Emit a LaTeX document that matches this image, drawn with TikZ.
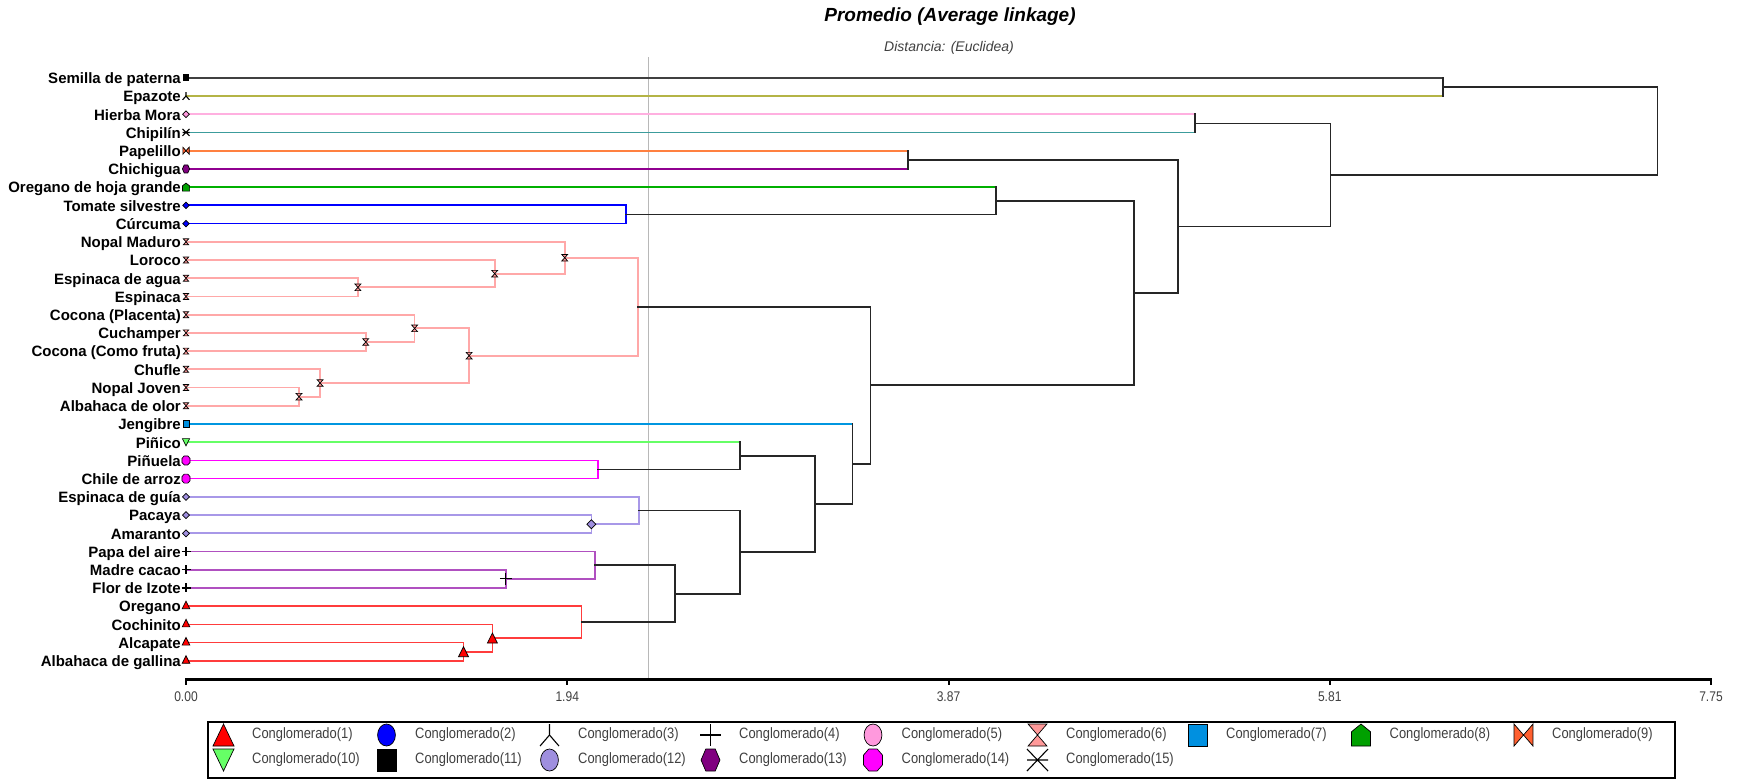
\documentclass[tikz,border=0pt]{standalone}
\usepackage{fontspec}
\setmainfont{Liberation Sans}
\newfontfamily\narrowfont[FakeStretch=0.86]{Liberation Sans}
\usetikzlibrary{calc}

\definecolor{kk}{HTML}{262626}
\definecolor{c1}{HTML}{FF3C3C}
\definecolor{c2}{HTML}{0000FF}
\definecolor{c3}{HTML}{B4B446}
\definecolor{c4}{HTML}{B050C0}
\definecolor{c5}{HTML}{FFB0E0}
\definecolor{c6}{HTML}{FFA8A8}
\definecolor{c7}{HTML}{0096E0}
\definecolor{c8}{HTML}{00B000}
\definecolor{c9}{HTML}{FF8040}
\definecolor{c10}{HTML}{66FF66}
\definecolor{c11}{HTML}{404040}
\definecolor{c12}{HTML}{A898E8}
\definecolor{c13}{HTML}{900090}
\definecolor{c14}{HTML}{FF00FF}
\definecolor{c15}{HTML}{3C9C9C}
\definecolor{f1}{HTML}{FF0000}
\definecolor{f5}{HTML}{FF99DD}
\definecolor{f6}{HTML}{FF9999}
\definecolor{f7}{HTML}{0090E0}
\definecolor{f8}{HTML}{00A000}
\definecolor{f9}{HTML}{FF6030}
\definecolor{f12}{HTML}{9F8FDF}
\definecolor{f13}{HTML}{800080}
\definecolor{txtgray}{HTML}{404040}
\definecolor{cutgray}{HTML}{B8B8B8}

\tikzset{
  mk/.style={draw=black, line width=0.7pt},
  mkl/.style={draw=black, line width=1.1pt},
  ln/.style={line width=1.7pt, line cap=rect},
  lab/.style={anchor=base east, inner sep=0pt, font=\fontsize{15}{15}\selectfont\bfseries},
  legtxt/.style={anchor=west, inner sep=0pt, text=txtgray, font=\narrowfont\fontsize{15}{15}\selectfont},
  ticklab/.style={inner sep=0pt, text=txtgray, font=\narrowfont\fontsize{14}{14}\selectfont},
  pics/ptri/.style={code={\path[mk,fill=#1] (0,-1)--(1,1)--(-1,1)--cycle;}},
  pics/ptrid/.style={code={\path[mk,fill=#1] (0,1)--(1,-1)--(-1,-1)--cycle;}},
  pics/pell/.style={code={\path[mk,fill=#1] (0,0) ellipse [x radius=0.85, y radius=1];}},
  pics/pdia/.style={code={\path[mk,fill=#1] (0,-1)--(1,0)--(0,1)--(-1,0)--cycle;}},
  pics/psq/.style={code={\path[mk,fill=#1] (-0.9,-1) rectangle (0.9,1);}},
  pics/pY/.style={code={\draw[mkl] (0,-1)--(0,0)--(-0.9,1) (0,0)--(0.9,1);}},
  pics/pplus/.style={code={\draw[mkl] (-1,0)--(1,0) (0,-1)--(0,1);}},
  pics/pstar/.style={code={\draw[mkl] (-1,-1)--(1,1) (-1,1)--(1,-1) (-1,0)--(1,0);}},
  pics/phour/.style={code={\path[mk,fill=#1] (-0.9,-1)--(0.9,-1)--(-0.9,1)--(0.9,1)--cycle;}},
  pics/pbow/.style={code={\path[mk,fill=#1] (-0.9,-1)--(0.9,1)--(0.9,-1)--(-0.9,1)--cycle;}},
  pics/phouse/.style={code={\path[mk,fill=#1] (0,-1)--(0.9,-0.3)--(0.9,1)--(-0.9,1)--(-0.9,-0.3)--cycle;}},
  pics/phex/.style={code={\path[mk,fill=#1] (-0.45,-1)--(0.45,-1)--(0.9,0)--(0.45,1)--(-0.45,1)--(-0.9,0)--cycle;}},
  pics/poct/.style={code={\path[mk,fill=#1] (-0.4,-1)--(0.4,-1)--(0.9,-0.45)--(0.9,0.45)--(0.4,1)--(-0.4,1)--(-0.9,0.45)--(-0.9,-0.45)--cycle;}},
}

\newcommand\leaf[3]{%
  \coordinate (#1) at (186,{77.8+18.22*#2});
  \node[lab] (T#1) at (181,{77.8+18.22*#2+5.8}) {#3};
}
\newcommand\jn[7]{%
  \path let \p1=(#3), \p2=(#4) in coordinate (#1) at (#2pt,{(\y1+\y2)/2});
  \draw[ln,#5] (#3) -- (#3 -| #1);
  \draw[ln,#6] (#4) -- (#4 -| #1);
  \draw[ln,#7] (#3 -| #1) -- (#4 -| #1);
}
\newcommand\legent[5]{%
  \pic[xscale=10.5,yscale=11] at ({#2-28.5},#3) {#4};
  \node[legtxt] (leg#1) at (#2,#3) {#5};
}

\begin{document}
\begin{tikzpicture}[x=1pt,y=-1pt]
\useasboundingbox (0,0) rectangle (1743,780);

% titles
\node[inner sep=0pt, font=\fontsize{19}{19}\selectfont\bfseries\itshape] (title) at (950,17) {Promedio (Average linkage)};
\node[inner sep=0pt, text=txtgray, font=\fontsize{14}{14}\selectfont\itshape] (sub) at (949,48) {Distancia: (Euclidea)};

% leaves
\leaf{sem}{0}{Semilla de paterna}
\leaf{epa}{1}{Epazote}
\leaf{hm}{2}{Hierba Mora}
\leaf{chi}{3}{Chipilín}
\leaf{pap}{4}{Papelillo}
\leaf{chg}{5}{Chichigua}
\leaf{ohg}{6}{Oregano de hoja grande}
\leaf{tom}{7}{Tomate silvestre}
\leaf{cur}{8}{Cúrcuma}
\leaf{nma}{9}{Nopal Maduro}
\leaf{lor}{10}{Loroco}
\leaf{eag}{11}{Espinaca de agua}
\leaf{esp}{12}{Espinaca}
\leaf{cpl}{13}{Cocona (Placenta)}
\leaf{cuc}{14}{Cuchamper}
\leaf{cfr}{15}{Cocona (Como fruta)}
\leaf{chu}{16}{Chufle}
\leaf{njo}{17}{Nopal Joven}
\leaf{ado}{18}{Albahaca de olor}
\leaf{jen}{19}{Jengibre}
\leaf{pco}{20}{Piñico}
\leaf{pnu}{21}{Piñuela}
\leaf{car}{22}{Chile de arroz}
\leaf{egu}{23}{Espinaca de guía}
\leaf{pac}{24}{Pacaya}
\leaf{ama}{25}{Amaranto}
\leaf{pai}{26}{Papa del aire}
\leaf{mca}{27}{Madre cacao}
\leaf{fiz}{28}{Flor de Izote}
\leaf{ore}{29}{Oregano}
\leaf{coc}{30}{Cochinito}
\leaf{alc}{31}{Alcapate}
\leaf{aga}{32}{Albahaca de gallina}

% cut line
\coordinate (cutT) at (648.5,57);
\coordinate (cutB) at (648.5,679);
\draw[cutgray, line width=1.4pt] (cutT) -- (cutB);

% merges: name, x, childA, childB, colA, colB, bracket
\jn{s1}{357.9}{eag}{esp}{c6}{c6}{c6}
\jn{s2}{494.7}{lor}{s1}{c6}{c6}{c6}
\jn{s3}{564.7}{nma}{s2}{c6}{c6}{c6}
\jn{s4}{365.7}{cuc}{cfr}{c6}{c6}{c6}
\jn{s5}{414.6}{cpl}{s4}{c6}{c6}{c6}
\jn{s6}{299.0}{njo}{ado}{c6}{c6}{c6}
\jn{s7}{320.1}{chu}{s6}{c6}{c6}{c6}
\jn{s8}{469.1}{s5}{s7}{c6}{c6}{c6}
\jn{s9}{638.1}{s3}{s8}{c6}{c6}{c6}
\jn{b1}{625.8}{tom}{cur}{c2}{c2}{c2}
\jn{o1}{996.0}{ohg}{b1}{c8}{kk}{kk}
\jn{p1}{598.0}{pnu}{car}{c14}{c14}{c14}
\jn{p2}{740.3}{pco}{p1}{c10}{kk}{kk}
\jn{l1}{591.4}{pac}{ama}{c12}{c12}{c12}
\jn{l2}{639.2}{egu}{l1}{c12}{c12}{c12}
\jn{u1}{505.8}{mca}{fiz}{c4}{c4}{c4}
\jn{u2}{594.7}{pai}{u1}{c4}{c4}{c4}
\jn{r1}{463.5}{alc}{aga}{c1}{c1}{c1}
\jn{r2}{492.4}{coc}{r1}{c1}{c1}{c1}
\jn{r3}{581.4}{ore}{r2}{c1}{c1}{c1}
\jn{k1}{674.7}{u2}{r3}{kk}{kk}{kk}
\jn{k2}{740.3}{l2}{k1}{kk}{kk}{kk}
\jn{k3}{814.8}{p2}{k2}{kk}{kk}{kk}
\jn{k4}{852.6}{jen}{k3}{c7}{kk}{kk}
\jn{k5}{870.4}{s9}{k4}{kk}{kk}{kk}
\jn{k6}{1133.8}{o1}{k5}{kk}{kk}{kk}
\jn{pc}{908.2}{pap}{chg}{c9}{c13}{kk}
\jn{k7}{1178.3}{pc}{k6}{kk}{kk}{kk}
\jn{hc}{1195.0}{hm}{chi}{c5}{c15}{kk}
\jn{k8}{1330.6}{hc}{k7}{kk}{kk}{kk}
\jn{se}{1442.9}{sem}{epa}{c11}{c3}{kk}
\jn{k9}{1657.4}{se}{k8}{kk}{kk}{kk}

% leaf markers
\pic[scale=3] at (sem) {psq=black};
\pic[scale=3.8] at (epa) {pY};
\pic[scale=3.3] at (hm) {pdia=f5};
\pic[scale=3.5] at (chi) {pstar};
\pic[scale=3.5] at (pap) {pbow=f9};
\pic[scale=4] at (chg) {phex=f13};
\pic[scale=4] at (ohg) {phouse=f8};
\pic[scale=3.3] at (tom) {pdia=c2};
\pic[scale=3.3] at (cur) {pdia=c2};
\foreach \n in {nma,lor,eag,esp,cpl,cuc,cfr,chu,njo,ado}{\pic[scale=3] at (\n) {phour=f6};}
\pic[scale=3.5] at (jen) {psq=f7};
\pic[scale=3.6] at (pco) {ptrid=c10};
\pic[scale=4.5] at (pnu) {poct=c14};
\pic[scale=4.5] at (car) {poct=c14};
\foreach \n in {egu,pac,ama}{\pic[scale=3.5] at (\n) {pdia=f12};}
\foreach \n in {pai,mca,fiz}{\pic[scale=4.5] at (\n) {pplus};}
\foreach \n in {ore,coc,alc,aga}{\pic[scale=3.8,yshift=0.35pt] at (\n) {ptri=f1};}

% internal markers
\foreach \n in {s1,s2,s3,s4,s5,s6,s7,s8}{\pic[scale=3.3] at (\n) {phour=f6};}
\pic[scale=4.5] at (l1) {pdia=f12};
\pic[scale=6] at (u1) {pplus};
\pic[scale=5] at (r1) {ptri=f1};
\pic[scale=5] at (r2) {ptri=f1};

% axis
\coordinate (ax0) at (186,679);
\coordinate (ax1) at (1711,679);
\draw[black, line width=3pt] (ax0) -- (ax1);
\foreach \k/\t in {0/0.00,1/1.94,2/3.87,3/5.81,4/7.75}{
  \draw[black, line width=2pt] ({186+381.25*\k},678) -- ++(0,7);
  \node[ticklab] (tick\k) at ({186+381.25*\k},697) {\t};
}

% legend
\coordinate (lg0) at (208,722);
\coordinate (lg1) at (1675,778);
\draw[black, line width=1.4pt] (lg0) rectangle (lg1);
\legent{1}{252}{735}{ptri=f1}{Conglomerado(1)}
\legent{2}{415}{735}{pell=c2}{Conglomerado(2)}
\legent{3}{578}{735}{pY}{Conglomerado(3)}
\legent{4}{739}{735}{pplus}{Conglomerado(4)}
\legent{5}{901.5}{735}{pell=f5}{Conglomerado(5)}
\legent{6}{1066}{735}{phour=f6}{Conglomerado(6)}
\legent{7}{1226}{735}{psq=f7}{Conglomerado(7)}
\legent{8}{1389.5}{735}{phouse=f8}{Conglomerado(8)}
\legent{9}{1552}{735}{pbow=f9}{Conglomerado(9)}
\legent{10}{252}{760}{ptrid=c10}{Conglomerado(10)}
\legent{11}{415}{760}{psq=black}{Conglomerado(11)}
\legent{12}{578}{760}{pell=f12}{Conglomerado(12)}
\legent{13}{739}{760}{phex=f13}{Conglomerado(13)}
\legent{14}{901.5}{760}{poct=c14}{Conglomerado(14)}
\legent{15}{1066}{760}{pstar}{Conglomerado(15)}
\end{tikzpicture}
\end{document}
